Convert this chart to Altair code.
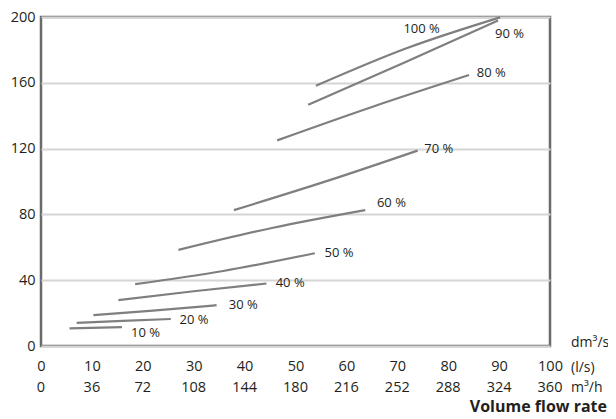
import altair as alt
import pandas as pd

# ---- data ----
series = ["10 %", "20 %", "30 %", "40 %", "50 %", "60 %", "70 %", "80 %", "90 %", "100 %"]
xs = [
    [5.6, 15.9],
    [7.0, 16.0, 25.5],
    [10.3, 22.0, 34.5],
    [15.2, 30.0, 44.3],
    [18.5, 35.8, 53.8],
    [27.0, 45.6, 63.7],
    [37.9, 56.1, 74.0],
    [46.4, 65.3, 84.1],
    [52.5, 71.2, 89.8],
    [54.0, 71.8, 90.2],
]
ys = [
    [10.7, 11.5],
    [14.1, 15.3, 16.4],
    [18.8, 21.5, 24.8],
    [27.9, 33.3, 38.0],
    [37.6, 45.6, 56.4],
    [58.4, 71.9, 82.6],
    [82.6, 100.2, 118.8],
    [125.0, 145.6, 164.7],
    [146.7, 172.0, 197.8],
    [158.2, 181.0, 199.8],
]
label_x = [17.7, 27.2, 36.9, 46.1, 55.7, 66.0, 75.3, 85.6, 89.2, 71.2]
label_y = [7.7, 15.8, 24.8, 38.2, 56.4, 86.7, 119.8, 165.9, 189.7, 192.7]

ls_ticks = [0, 10, 20, 30, 40, 50, 60, 70, 80, 90, 100]
m3h_ticks = [0, 36, 72, 108, 144, 180, 216, 252, 288, 324, 360]
y_ticks = [0, 20, 40, 60, 80, 100, 120, 140, 160, 180, 200]
unit_texts = ["dm³/s", "(l/s)", "m³/h"]
x_title = "Volume flow rate"

# ---- build tables ----
rows = []
for s, xv, yv in zip(series, xs, ys):
    for i, (a, b) in enumerate(zip(xv, yv)):
        rows.append({"s": s, "x": a, "y": b, "o": i})
df = pd.DataFrame(rows)
lab = pd.DataFrame({"s": series, "x": label_x, "y": label_y})
row2 = pd.DataFrame({"x": ls_ticks, "t": [str(v) for v in m3h_ticks]})

W, H = 509, 329
FONT = "Open Sans"
TXT = "#231f20"
FS = 14.5

xs_ = alt.Scale(domain=[0, 100], nice=False, zero=False)
ys_ = alt.Scale(domain=[0, 200], nice=False, zero=False)

lines = alt.Chart(df).mark_line(color="#7f7f7f", strokeWidth=2.2, interpolate="monotone").encode(
    x=alt.X("x:Q", scale=xs_, axis=alt.Axis(values=ls_ticks, grid=False, domain=False, ticks=False,
                                            labelPadding=13, labelFontSize=FS, labelFont=FONT,
                                            labelColor=TXT, labelFlush=False, labelOverlap=False,
                                            title=None)),
    y=alt.Y("y:Q", scale=ys_, axis=alt.Axis(values=y_ticks, grid=True, gridColor="#d5d5d5", gridWidth=2,
                                            domain=False, ticks=False, labelPadding=6, labelFontSize=FS,
                                            labelFont=FONT, labelColor=TXT, labelOverlap=False,
                                            labelFlush=False, title=None)),
    detail="s:N",
    order="o:Q",
)

labels = alt.Chart(lab).mark_text(align="left", baseline="middle", fontSize=13, font=FONT, color=TXT).encode(
    x=alt.X("x:Q", scale=xs_), y=alt.Y("y:Q", scale=ys_), text="s:N"
)

second_row = alt.Chart(row2).mark_text(align="center", baseline="middle", fontSize=FS, font=FONT, color=TXT).encode(
    x=alt.X("x:Q", scale=xs_), y=alt.value(H + 42), text="t:N"
)

def unit(t, yy):
    return alt.Chart(pd.DataFrame({"t": [t]})).mark_text(
        align="left", baseline="middle", fontSize=14, font=FONT, color=TXT
    ).encode(x=alt.value(W + 21), y=alt.value(yy), text="t:N")

u1 = unit(unit_texts[0], H - 3)
u2 = unit(unit_texts[1], H + 22)
u3 = unit(unit_texts[2], H + 42)
ttl = alt.Chart(pd.DataFrame({"t": [x_title]})).mark_text(
    align="right", baseline="alphabetic", fontSize=16, fontWeight="bold", font=FONT, color=TXT
).encode(x=alt.value(W + 57), y=alt.value(H + 66), text="t:N")

chart = alt.layer(lines, labels, second_row, u1, u2, u3, ttl).properties(
    width=W, height=H,
    padding={"left": 33, "top": 9, "right": 58, "bottom": 70},
    autosize=alt.AutoSizeParams(type="none"),
).configure_view(stroke="#6a6a6a", strokeWidth=2.5)

chart.save("out.html", embed_options={"renderer": "svg", "actions": False})
